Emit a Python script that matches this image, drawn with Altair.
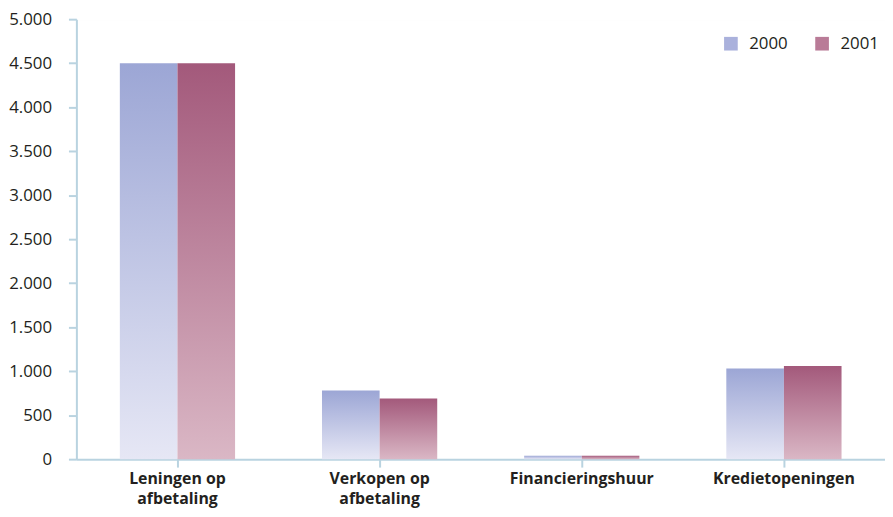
import altair as alt
import pandas as pd

categories = ["Leningen op afbetaling", "Verkopen op afbetaling", "Financieringshuur", "Kredietopeningen"]
years = ["2000", "2001"]
values_2000 = [4500, 780, 40, 1030]
values_2001 = [4500, 690, 40, 1060]

rows = []
for c, a, b in zip(categories, values_2000, values_2001):
    rows.append({"cat": c, "year": "2000", "value": a})
    rows.append({"cat": c, "year": "2001", "value": b})
df = pd.DataFrame(rows)

FONT = "Open Sans"
AXIS_COL = "#b9d3e0"

x_enc = alt.X("cat:N", sort=categories,
              scale=alt.Scale(paddingInner=0.43, paddingOuter=0.215),
              axis=alt.Axis(title=None, labelAngle=0, labelFont=FONT, labelFontSize=16,
                            labelFontWeight="bold", labelColor="#231f20", labelLineHeight=20,
                            labelPadding=4, tickSize=8, tickWidth=2, tickColor=AXIS_COL,
                            domainColor=AXIS_COL, domainWidth=2, grid=False,
                            labelExpr="split(replace(datum.label, ' afbetaling', '|afbetaling'), '|')"))
xo_enc = alt.XOffset("year:N", scale=alt.Scale(domain=years, paddingInner=0, paddingOuter=0))
y_enc = alt.Y("value:Q", scale=alt.Scale(domain=[0, 5000], nice=False),
              axis=alt.Axis(title=None, values=list(range(0, 5001, 500)), labelFont=FONT,
                            labelFontSize=17, labelColor="#231f20", labelPadding=17,
                            tickSize=8, tickWidth=2, tickColor=AXIS_COL, domainColor=AXIS_COL,
                            domainWidth=2, grid=True, gridColor="#ffffff", gridWidth=2,
                            labelExpr="replace(format(datum.value, ','), ',', '.')"))

base = alt.Chart(df).encode(x=x_enc, xOffset=xo_enc, y=y_enc)

grad_2000 = alt.Gradient(gradient="linear", x1=0, x2=0, y1=1, y2=0,
                         stops=[alt.GradientStop(color="#e6e7f5", offset=0),
                                alt.GradientStop(color="#9ca6d5", offset=1)])
grad_2001 = alt.Gradient(gradient="linear", x1=0, x2=0, y1=1, y2=0,
                         stops=[alt.GradientStop(color="#dab7c5", offset=0),
                                alt.GradientStop(color="#a3597b", offset=1)])

bars_2000 = base.transform_filter(alt.datum.year == "2000").mark_bar(color=grad_2000)
bars_2001 = base.transform_filter(alt.datum.year == "2001").mark_bar(color=grad_2001)

legend_layer = base.mark_square(opacity=0).encode(
    color=alt.Color("year:N", scale=alt.Scale(domain=years, range=["#aab1dc", "#b97b97"]),
                    legend=alt.Legend(title=None, orient="none", legendX=652, legendY=16,
                                      direction="horizontal", symbolType="square",
                                      symbolSize=190, symbolOpacity=1, symbolStrokeWidth=0,
                                      labelFont=FONT, labelFontSize=17, labelColor="#231f20",
                                      labelOffset=10, columnPadding=26))
)

chart = alt.layer(bars_2000, bars_2001, legend_layer).properties(
    width=885, height=501,
    autosize=alt.AutoSizeParams(type="fit", contains="padding"),
    padding={"left": 0, "right": 0, "top": 0, "bottom": 0},
).configure_view(fill="#e3ebf2", stroke=None).configure(background="#ffffff")

chart.save("out.html", embed_options={"renderer": "svg", "actions": False})
